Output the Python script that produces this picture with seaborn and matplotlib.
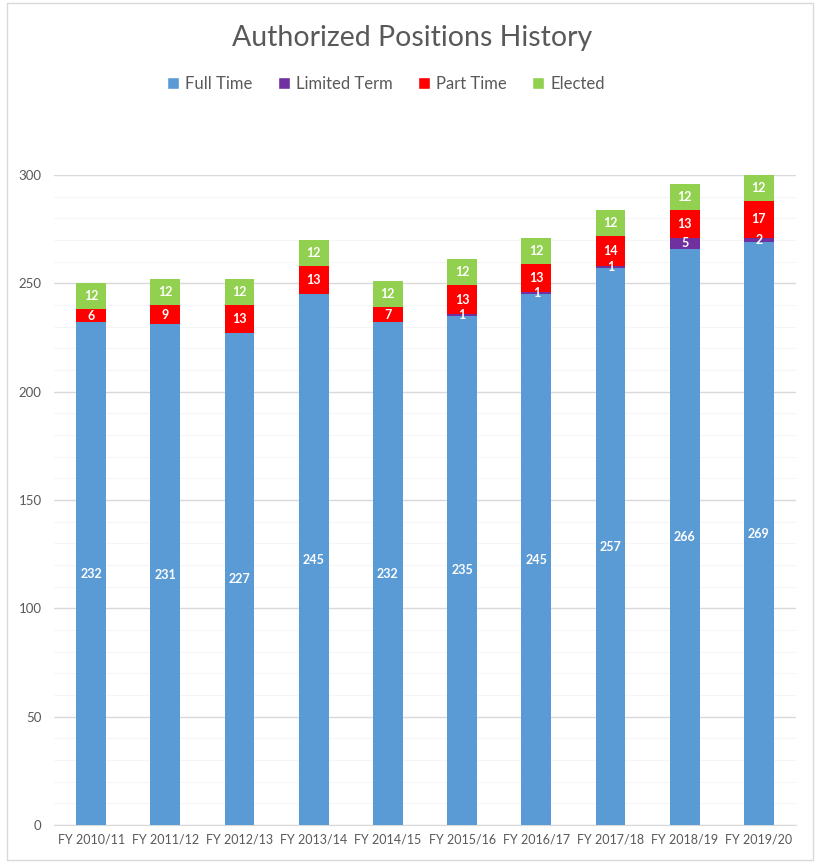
import numpy as np
import pandas as pd
import matplotlib
matplotlib.use("Agg")
import matplotlib.pyplot as plt
from matplotlib.patches import Patch, Rectangle
import seaborn as sns

# chart values
years = ["FY 2010/11", "FY 2011/12", "FY 2012/13", "FY 2013/14", "FY 2014/15",
         "FY 2015/16", "FY 2016/17", "FY 2017/18", "FY 2018/19", "FY 2019/20"]
full_time = [232, 231, 227, 245, 232, 235, 245, 257, 266, 269]
limited_term = [0, 0, 0, 0, 0, 1, 1, 1, 5, 2]
part_time = [6, 9, 13, 13, 7, 13, 13, 14, 13, 17]
elected = [12, 12, 12, 12, 12, 12, 12, 12, 12, 12]

series_names = ["Full Time", "Limited Term", "Part Time", "Elected"]
series_colors = ["#5B9BD5", "#7030A0", "#FF0000", "#92D050"]

sns.set_style("white")
plt.rcParams["font.family"] = ["Lato", "DejaVu Sans"]

df = pd.DataFrame({"Year": years, "Full Time": full_time, "Limited Term": limited_term,
                   "Part Time": part_time, "Elected": elected})
layers = df[series_names].cumsum(axis=1)

fig = plt.figure(figsize=(8.17, 8.63), dpi=100)
ax = fig.add_axes([54 / 817, 1 - 825 / 863, (796 - 54) / 817, (825 - 175) / 863])

# draw from the tallest cumulative layer down so each one shows as a stacked segment
for name, color in reversed(list(zip(series_names, series_colors))):
    sns.barplot(x=df["Year"], y=layers[name], color=color, width=0.4,
                saturation=1, linewidth=0, ax=ax, zorder=3)

# segment labels
for i in range(len(years)):
    base = 0
    for name in series_names:
        v = df[name][i]
        if v > 0:
            ax.text(i, base + v / 2, str(v), ha="center", va="center",
                    color="white", fontsize=9, fontweight="bold", zorder=5)
        base += v

ax.set_ylim(0, 300)
ax.set_xlim(-0.5, len(years) - 0.5)
ax.set_yticks(range(0, 301, 50))
ax.set_yticks(range(0, 301, 10), minor=True)
ax.grid(axis="y", which="major", color="#d9d9d9", linewidth=1, zorder=0)
ax.grid(axis="y", which="minor", color="#f5f5f5", linewidth=0.8, zorder=0)
ax.set_xlabel("")
ax.set_ylabel("")
for s in ["top", "right", "left"]:
    ax.spines[s].set_visible(False)
ax.spines["bottom"].set_color("#d9d9d9")
ax.tick_params(axis="both", which="both", length=0, colors="#595959", labelsize=9)
ax.tick_params(axis="y", labelsize=9.5, pad=9)
ax.tick_params(axis="x", pad=6)

fig.text(412 / 817, 1 - 38 / 863, "Authorized Positions History", ha="center", va="center",
         fontsize=20.5, color="#595959")

handles = [Patch(facecolor=c, label=n) for n, c in zip(series_names, series_colors)]
fig.legend(handles=handles, loc="center", bbox_to_anchor=(386 / 817, 1 - 84 / 863), ncol=4,
           frameon=False, fontsize=12, handlelength=0.7, handleheight=0.7,
           handletextpad=0.4, columnspacing=1.5, labelcolor="#595959")

fig.patches.append(Rectangle((7 / 817, 3 / 863), 806 / 817, 857 / 863,
                             transform=fig.transFigure, fill=False,
                             edgecolor="#d9d9d9", linewidth=1))

fig.savefig("out.png", dpi=100)
